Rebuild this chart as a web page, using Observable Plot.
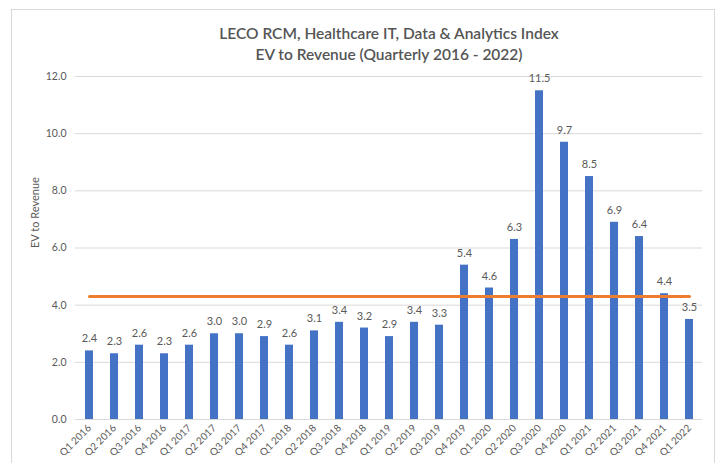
<!DOCTYPE html>
<html>
<head>
<meta charset="utf-8">
<script src="https://cdn.jsdelivr.net/npm/d3@7"></script>
<script src="https://cdn.jsdelivr.net/npm/@observablehq/plot@0.6"></script>
<style>
  html, body { margin: 0; padding: 0; background: #fff; }
  #wrap { position: relative; width: 717px; height: 463px; overflow: hidden; }
  #border { position: absolute; left: 11px; top: 9px; width: 704px; height: 470px; border: 1px solid #d9d9d9; box-sizing: border-box; }
  #chart { position: absolute; left: 0; top: 0; }
</style>
</head>
<body>
<div id="wrap"><div id="border"></div><div id="chart"></div></div>
<script>
const quarters = ["Q1 2016","Q2 2016","Q3 2016","Q4 2016","Q1 2017","Q2 2017","Q3 2017","Q4 2017",
  "Q1 2018","Q2 2018","Q3 2018","Q4 2018","Q1 2019","Q2 2019","Q3 2019","Q4 2019",
  "Q1 2020","Q2 2020","Q3 2020","Q4 2020","Q1 2021","Q2 2021","Q3 2021","Q4 2021","Q1 2022"];
const evRevenue = [2.4,2.3,2.6,2.3,2.6,3.0,3.0,2.9,2.6,3.1,3.4,3.2,2.9,3.4,3.3,5.4,4.6,6.3,11.5,9.7,8.5,6.9,6.4,4.4,3.5];
const averageValue = 4.3;
const yTicks = [0,2,4,6,8,10,12];
const titleLines = ["LECO RCM, Healthcare IT, Data & Analytics Index", "EV to Revenue (Quarterly 2016 - 2022)"];
const yLabel = "EV to Revenue";

const data = quarters.map((q, i) => ({q, v: evRevenue[i]}));
const avgLine = [{q: quarters[0], v: averageValue}, {q: quarters[quarters.length - 1], v: averageValue}];

const gray = "#595959";
const chart = Plot.plot({
  width: 717,
  height: 463,
  marginTop: 76,
  marginLeft: 75,
  marginRight: 15,
  marginBottom: 44,
  style: {fontFamily: "Lato, 'Open Sans', sans-serif", fontSize: "10px", color: gray, background: "transparent"},
  x: {domain: quarters, type: "band", paddingInner: 0.68, paddingOuter: 0.34},
  y: {domain: [0, 12]},
  marks: [
    Plot.ruleY(yTicks, {stroke: "#d9d9d9", strokeWidth: 1}),
    Plot.axisY({ticks: yTicks, tickFormat: d3.format(".1f"), tickSize: 0, tickPadding: 9, label: null, fill: gray, fontSize: 10.5}),
    Plot.axisX({tickSize: 0, tickRotate: -45, tickPadding: 7, label: null, fill: gray, fontSize: 10}),
    Plot.barY(data, {x: "q", y: "v", fill: "#4472C4"}),
    Plot.text(data, {x: "q", y: "v", text: d => d.v.toFixed(1), dy: -12, fill: gray, fontSize: 11}),
    Plot.line(avgLine, {x: "q", y: "v", stroke: "#ED7D31", strokeWidth: 3}),
    Plot.text([yLabel], {frameAnchor: "left", dx: -40, rotate: -90, fill: gray, fontSize: 11}),
    Plot.text([titleLines[0]], {frameAnchor: "top", dy: -49, fill: "#555555", fontSize: 15.5, fontWeight: 600}),
    Plot.text([titleLines[1]], {frameAnchor: "top", dy: -28, fill: "#555555", fontSize: 15.5, fontWeight: 600})
  ]
});
document.getElementById("chart").appendChild(chart);
</script>
</body>
</html>
